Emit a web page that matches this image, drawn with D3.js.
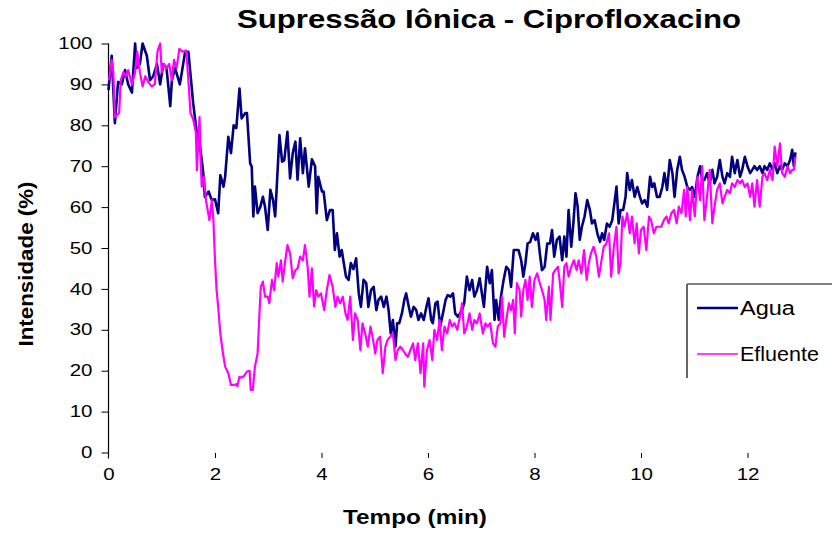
<!DOCTYPE html>
<html>
<head>
<meta charset="utf-8">
<script src="https://cdn.jsdelivr.net/npm/d3@7"></script>
<style>
  html, body { margin: 0; padding: 0; background: #fff; }
  svg { display: block; }
  text { font-family: "Liberation Sans", Arial, sans-serif; fill: #000; }
</style>
</head>
<body>
<svg id="chart" width="832" height="534"></svg>
<script>
// ---- data ----
const title = "Supressão Iônica - Ciprofloxacino";
const xLabel = "Tempo (min)";
const yLabel = "Intensidade (%)";
const seriesNames = ["Agua", "Efluente"];
const xTicks = [0, 2, 4, 6, 8, 10, 12];
const yTicks = [0, 10, 20, 30, 40, 50, 60, 70, 80, 90, 100];

const aguaTime = [0.00,0.06,0.12,0.18,0.25,0.31,0.37,0.44,0.50,0.53,0.59,0.64,0.72,0.78,0.84,0.91,0.97,1.03,1.09,1.16,1.19,1.25,1.34,1.44,1.50,
  1.59,1.66,1.72,1.78,1.81,1.88,1.94,2.00,2.06,2.10,2.16,2.19,2.25,2.30,2.35,2.40,2.46,2.50,2.57,2.60,2.66,2.69,2.72,2.75,2.80,2.85,2.90,2.94,2.99,3.04,3.09,3.13,3.16,3.21,3.26,3.30,3.36,3.41,3.46,3.51,3.55,3.60,3.65,3.69,3.76,3.82,3.88,3.91,3.94,4.01,4.04,4.10,4.16,
  4.21,4.25,4.29,4.34,4.38,4.41,4.46,4.51,4.55,4.60,4.65,4.70,4.74,4.79,4.84,4.88,4.93,4.98,5.03,5.07,5.12,5.17,5.22,5.26,5.30,5.34,5.39,5.42,5.46,5.51,5.555,5.59,5.64,5.68,5.73,5.78,5.82,5.87,5.92,5.97,6.01,6.06,6.09,6.14,6.18,6.23,6.28,6.33,6.37,6.42,6.47,6.51,6.56,6.60,6.64,6.68,6.73,6.78,6.83,6.87,6.92,6.97,
  7.05,7.11,7.16,7.20,7.25,7.28,7.33,7.37,7.42,7.47,7.52,7.56,7.61,7.66,7.70,7.75,7.79,7.83,7.87,7.92,7.97,8.02,8.06,8.10,8.14,8.19,8.24,8.29,8.33,8.37,8.42,8.47,8.52,8.56,8.60,8.64,8.69,8.73,8.77,8.81,8.85,8.89,8.94,8.99,9.04,9.08,9.13,9.18,9.23,9.27,9.31,9.36,9.41,9.46,9.50,9.54,9.58,
  9.615,9.665,9.71,9.74,9.79,9.83,9.88,9.93,9.98,10.02,10.07,10.12,10.17,10.21,10.25,10.30,10.35,10.40,10.44,10.49,10.54,10.59,10.63,10.68,10.73,10.77,10.82,10.87,10.92,10.96,11.01,11.06,11.11,11.15,11.19,11.24,11.29,11.34,11.38,11.43,11.48,11.53,11.57,11.62,11.67,11.71,11.76,11.81,11.86,11.90,11.95,12.00,12.05,12.09,12.13,12.18,12.23,12.28,12.32,12.37,12.42,12.47,12.51,12.56,12.61,12.65,12.70,12.75,12.80,12.84,12.87,12.90];
const aguaValue = [88.6,97,80.5,90.6,90,93.5,90,88,100,94,95,100,97,91,92,95,90,95,94,84.7,91,94,90,98,98,
  85.4,78,74.8,68.3,62.5,63.8,61.7,61.9,58.5,67.8,65,67.4,77.2,73.2,80,79.3,89,81.7,83,83,70.7,69.9,57.7,65,58.5,60,62.5,60,54.4,64.2,61.7,57.7,65,77.6,71.1,71.4,78.4,67,73.2,76,66.7,76.8,68.3,74.4,65,71.7,70,58.5,67.4,63.8,63.8,56.8,59.3,
  59.3,49.5,53.6,47.9,49.5,47,43,42.2,46.3,44.8,47.5,38.9,35.6,42.2,41.4,35.6,39.7,40.5,34.8,37.3,38.1,35.6,38.1,34.8,29.1,32.4,25.9,31.6,31.6,34,37.3,38.9,35.6,33.2,35.6,34.8,32.4,34,32.4,35.6,37.7,32.4,31.6,36.5,36.9,30.8,34,37.3,38.5,38.1,38.9,34,33.2,34,34.8,36.5,43,39.7,42.2,38.1,39.7,42.6,
  35.6,45.4,41.4,44.6,32.4,37.3,32.4,38.1,42.2,45.4,44.6,40.5,49.5,49.5,49.5,47,43,46.3,51.1,51.5,53.6,52,53.6,48.7,44.6,45.4,51.1,51.1,54.4,47.9,52,52.8,47,52.8,47.9,59.3,50.3,56,63.4,60.2,52,55.2,57.7,61.7,59.3,56,56.8,53.6,51.5,53.6,52,56,55.2,56.8,60.9,65,56,
  59.3,59.3,62.5,68.3,64.2,66.6,62.5,64.9,62.5,60.9,61.7,60.1,67.4,64.9,65.8,62.5,62.5,64.9,68.3,64.2,71.5,68.3,62.5,69.1,72.3,69.1,67.4,64.9,64.2,64.9,62.5,67.4,70,66.6,66.6,68.3,65.8,69.1,65.8,67.4,71.5,67.4,65.8,68.3,67.4,72.3,68.3,71.5,67.4,69.1,72.3,70,68.3,69.1,70,69.1,70,68.3,70,69.1,70.7,69.1,70.7,68.3,70,69.1,70.7,70,71.5,74,70,73.4];

const efluenteTime = [0.01,0.06,0.09,0.12,0.20,0.23,0.28,0.33,0.37,0.44,0.50,0.54,0.59,0.64,0.69,0.75,0.81,0.87,0.92,0.97,1.00,1.04,1.09,1.14,1.19,1.23,1.28,1.33,1.39,1.46,1.50,1.54,1.59,1.64,
  1.66,1.71,1.73,1.75,1.795,1.83,1.895,1.94,1.97,2.00,2.03,2.065,2.10,2.15,2.19,2.25,2.30,2.35,2.40,2.42,2.46,2.50,2.55,2.60,2.65,2.67,2.71,2.75,2.80,2.835,2.86,2.90,2.94,2.99,3.02,3.07,3.11,3.16,3.19,3.24,3.27,3.32,3.36,3.41,3.46,3.51,3.55,3.60,3.65,3.69,3.74,3.775,3.82,3.86,3.90,3.94,3.99,4.05,4.10,4.15,
  4.21,4.26,4.30,4.35,4.40,4.45,4.49,4.54,4.59,4.63,4.68,4.73,4.77,4.82,4.87,4.92,4.97,5.01,5.05,5.10,5.15,5.20,5.24,5.29,5.34,5.39,5.43,5.48,5.53,5.57,5.62,5.67,5.72,5.76,5.81,5.86,5.91,5.93,5.98,6.03,6.08,6.12,6.17,6.22,6.26,6.31,6.36,6.41,6.45,6.495,6.55,6.60,6.64,6.68,6.73,6.78,6.83,6.87,6.92,6.97,
  7.03,7.08,7.12,7.17,7.22,7.265,7.31,7.36,7.39,7.43,7.47,7.52,7.56,7.60,7.63,7.67,7.72,7.75,7.79,7.83,7.87,7.91,7.95,8.00,8.05,8.10,8.14,8.19,8.22,8.27,8.30,8.35,8.39,8.44,8.47,8.52,8.56,8.60,8.64,8.69,8.74,8.79,8.83,8.88,8.93,8.98,9.02,9.06,9.11,9.16,9.21,9.25,9.30,9.35,9.40,9.44,9.49,9.54,9.58,
  9.615,9.65,9.69,9.74,9.79,9.83,9.88,9.92,9.96,10.00,10.05,10.10,10.15,10.19,10.24,10.29,10.34,10.38,10.43,10.48,10.52,10.57,10.62,10.67,10.71,10.76,10.81,10.84,10.87,10.92,10.96,11.01,11.06,11.11,11.15,11.19,11.24,11.29,11.34,11.38,11.43,11.48,11.53,11.57,11.62,11.67,11.71,11.76,11.81,11.86,11.90,11.95,12.00,12.05,12.09,12.13,12.18,12.23,12.28,12.32,12.37,12.42,12.47,12.51,12.56,12.61,12.65,12.70,12.75,12.80,12.84,12.87,12.90];
const efluenteValue = [91,96,93,82,83,91,93,92,93.5,89.9,93,98,93,89.5,92,90.5,89.5,90,98,100,93,95,94,95,91,96,94,98.7,98,98.3,91,83,81.5,78.3,
  69,82,72.3,65,67.4,61.7,56.8,61.7,56.8,47,39.7,34.8,29.1,24.2,21,19.4,16.5,16.5,16.7,16.2,18.5,18.3,18.8,19.8,20,15.3,15.3,21,24.2,34,40.5,41.8,38.1,38.1,36.5,42.2,39.7,46.3,43,47,41.8,47,50.7,48.7,42.6,44.6,45,47.9,47,50.7,45.4,38.1,45,35.7,39.7,38.1,38.9,34.8,39.7,43.4,
  40.5,35.6,38.1,36.5,38.1,34,32.4,38.1,27.5,34,32.4,25,31.6,29.1,25.9,30.8,27.5,24.2,27.5,28.3,19.4,25.9,27.5,28.3,29.1,22.6,25,25.9,25,24.2,23.4,25,26.7,22.6,26.7,19.4,26.7,16.1,25,27.5,22.6,30,27.5,32.4,25,30.8,29.1,32.4,30.8,31.6,30,33.2,36.5,29.1,30.8,34,30,32.4,31.6,34,
  29.1,31.6,30.8,31.6,26.7,25.9,30.8,31.6,38.1,28.3,32.4,36.5,34.8,37.3,29.1,41.4,39.7,33.2,39.7,42.2,37.3,43,35.6,42.2,43.8,41.4,39.7,37.3,32.4,40.5,32.4,43.8,44.6,45.4,42.2,35.6,45.4,46.3,43,45.4,47,44.6,47,43.8,49.5,42.2,46.3,48.7,50.3,47.9,43,46.3,50.3,51.1,53.6,43,50.3,55.2,43.8,
  46.3,57.7,55.2,58.5,53.6,57.7,51.1,56,48.7,54.4,55.2,49.5,57.7,56.8,53.6,55.2,55.2,55.2,56.8,57.7,56,58.5,59.3,56,60.1,58.5,64.2,57.7,64.9,56.8,64.2,57.7,67.4,61.7,70,56.8,62.5,69.1,56,60.1,64.2,65.8,60.9,62.5,64.2,63.4,65.8,64.9,66.6,65.8,66.6,64.9,65.8,62.5,65.8,60.1,66.6,60.1,67.4,68.3,66.6,69.1,66.6,74.8,70,75.6,68.3,67.4,70,68.3,69.1,69.1,72.3];

const colors = ["#000080", "#FF00FF"];

// ---- drawing ----
const svg = d3.select("#chart");
const x = d3.scaleLinear().domain([0, 13]).range([108.5, 800.75]);
const y = d3.scaleLinear().domain([0, 100]).range([452.5, 43.5]);

function stretchText(sel, sx) {
  sel.each(function () {
    const t = d3.select(this);
    const tx = +t.attr("x") || 0;
    t.attr("transform", `translate(${tx},0) scale(${sx},1) translate(${-tx},0)`);
  });
}
function fitWidth(node, target) {
  const w = node.getComputedTextLength();
  return target / w;
}

// Y axis
const yAxis = svg.append("g").attr("transform", "translate(108.5,0)")
  .call(d3.axisLeft(y).tickValues(yTicks).tickSize(7).tickSizeOuter(0).tickPadding(9).tickFormat(d3.format("d")));
yAxis.select(".domain").remove();
yAxis.selectAll(".tick line").attr("stroke", "#000").attr("stroke-width", 1);
yAxis.selectAll(".tick text").attr("font-size", 16).attr("font-family", "Liberation Sans, Arial, sans-serif").attr("fill", "#000");
stretchText(yAxis.selectAll(".tick text"), 1.28);
svg.append("line").attr("x1", 108.5).attr("x2", 108.5).attr("y1", y(100)).attr("y2", 458.5)
  .attr("stroke", "#000").attr("stroke-width", 1.2);

// X axis (ticks only, hanging below the plot)
const xAxis = svg.append("g").attr("transform", "translate(0,453)")
  .call(d3.axisBottom(x).tickValues(xTicks).tickSize(5).tickSizeOuter(0).tickPadding(11).tickFormat(d3.format("d")));
xAxis.select(".domain").remove();
xAxis.selectAll(".tick line").attr("stroke", "#000");
xAxis.filter(() => true).selectAll(".tick").filter(d => d === 0).select("line").remove();
xAxis.selectAll(".tick text").attr("font-size", 16).attr("font-family", "Liberation Sans, Arial, sans-serif").attr("fill", "#000");
stretchText(xAxis.selectAll(".tick text"), 1.28);

// Lines
const line = d3.line().x(d => x(d[0])).y(d => y(d[1])).curve(d3.curveLinear);
const aguaData = d3.zip(aguaTime, aguaValue);
const efluenteData = d3.zip(efluenteTime, efluenteValue);
svg.append("path").datum(aguaData).attr("d", line).attr("fill", "none")
  .attr("stroke", colors[0]).attr("stroke-width", 2.6).attr("stroke-linejoin", "round");
svg.append("path").datum(efluenteData).attr("d", line).attr("fill", "none")
  .attr("stroke", colors[1]).attr("stroke-width", 2.2).attr("stroke-linejoin", "round");

// Title
const tt = svg.append("text").attr("x", 489).attr("y", 28).attr("text-anchor", "middle")
  .attr("font-size", 25).attr("font-weight", "bold").text(title);
stretchText(tt, fitWidth(tt.node(), 504));

// X label
const xl = svg.append("text").attr("x", 415).attr("y", 524).attr("text-anchor", "middle")
  .attr("font-size", 20).attr("font-weight", "bold").text(xLabel);
stretchText(xl, fitWidth(xl.node(), 144));

// Y label
const yl = svg.append("text").attr("text-anchor", "middle")
  .attr("font-size", 20).attr("font-weight", "bold").text(yLabel);
const ys = fitWidth(yl.node(), 165);
yl.attr("transform", `translate(33,264) rotate(-90) scale(${ys},1)`);

// Legend
const lg = svg.append("g");
lg.append("line").attr("x1", 687).attr("x2", 832).attr("y1", 284).attr("y2", 284).attr("stroke", "#000").attr("stroke-width", 1);
lg.append("line").attr("x1", 687).attr("x2", 687).attr("y1", 284).attr("y2", 378).attr("stroke", "#666").attr("stroke-width", 2);
const legY = [308, 354];
const legW = [55, 79];
seriesNames.forEach((name, i) => {
  lg.append("line").attr("x1", 697).attr("x2", 738).attr("y1", legY[i]).attr("y2", legY[i])
    .attr("stroke", colors[i]).attr("stroke-width", i === 0 ? 2.4 : 1.4);
  const t = lg.append("text").attr("x", 740).attr("y", legY[i] + 7).attr("font-size", 20).text(name);
  stretchText(t, fitWidth(t.node(), legW[i]));
});
</script>
</body>
</html>
